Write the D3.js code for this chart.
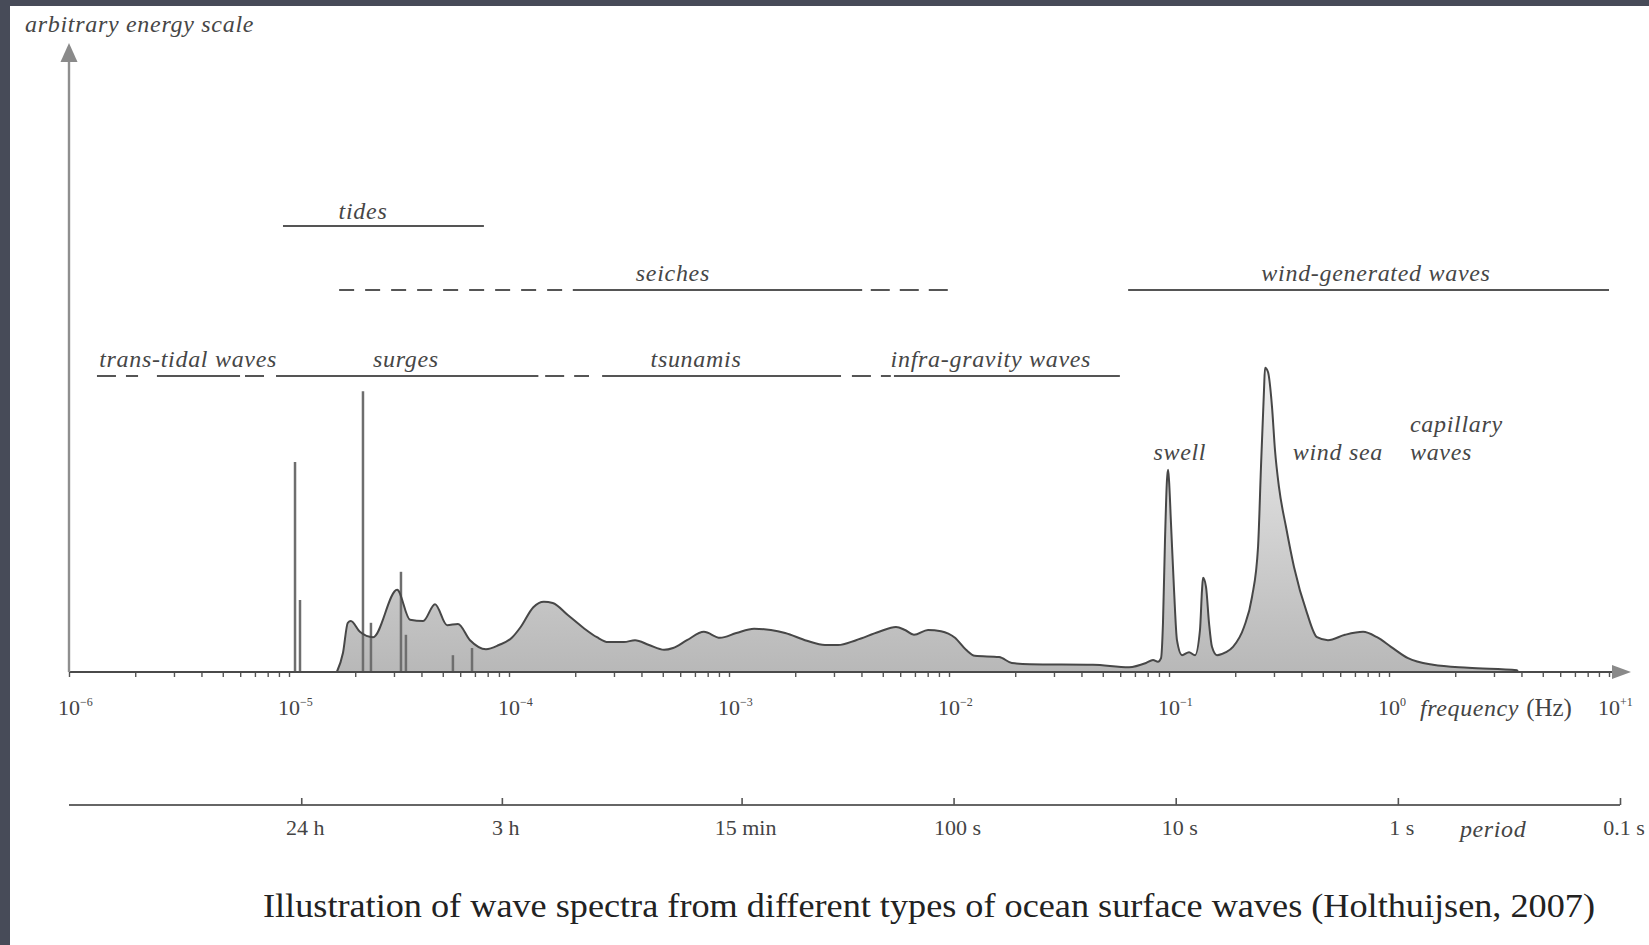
<!DOCTYPE html>
<html>
<head>
<meta charset="utf-8">
<script src="https://cdn.jsdelivr.net/npm/d3@7"></script>
<style>
  html, body { margin: 0; padding: 0; background: #474b58; }
  svg { display: block; }
</style>
</head>
<body>
<svg id="chart" width="1649" height="945"></svg>
<script>
// ---- Data -------------------------------------------------------------
// Composite energy spectrum (arbitrary units) against frequency (Hz)
const spectrumFreq = [
  1.65e-5, 1.76e-5, 1.85e-5, 1.91e-5, 2.10e-5, 2.41e-5, 3.10e-5, 3.55e-5, 4.07e-5, 4.61e-5,
  5.23e-5, 5.86e-5, 6.65e-5, 7.86e-5, 9.0e-5, 1.03e-4, 1.13e-4, 1.29e-4, 1.44e-4, 1.58e-4,
  1.85e-4, 2.19e-4, 2.51e-4, 2.82e-4, 3.33e-4, 3.74e-4, 4.33e-4, 5.07e-4, 5.57e-4, 6.44e-4,
  7.69e-4, 9.10e-4, 1.08e-3, 1.30e-3, 1.55e-3, 1.80e-3, 2.26e-3, 2.73e-3, 3.13e-3, 3.78e-3,
  4.81e-3, 5.74e-3, 6.31e-3, 6.93e-3, 8.03e-3, 9.20e-3, 1.065e-2, 1.195e-2, 1.31e-2, 1.69e-2,
  1.93e-2, 2.33e-2, 4.51e-2, 6.58e-2, 0.0786, 0.0846, 0.0891, 0.092, 0.0939, 0.0959,
  0.0979, 0.0990, 0.1, 0.1021, 0.1054, 0.1087, 0.1146, 0.1233, 0.1313, 0.1383,
  0.1413, 0.1428, 0.1473, 0.152, 0.1568, 0.1653, 0.1816, 0.1954, 0.2193, 0.2384,
  0.2539, 0.2619, 0.2703, 0.2732, 0.2818, 0.2939, 0.3032, 0.3162, 0.3402, 0.370,
  0.424, 0.4707, 0.528, 0.631, 0.762, 0.882, 1.021, 1.22, 1.585, 2.29, 3.82, 3.86
];
const spectrumEnergy = [
  0, 3.2, 8.2, 8.5, 6.7, 5.8, 13.7, 8.7, 8.5, 11.3,
  7.8, 8.0, 5.3, 3.8, 4.5, 5.7, 7.5, 10.8, 11.7, 11.5,
  9.5, 7.3, 5.8, 5.0, 5.0, 5.3, 4.5, 3.7, 4.0, 5.3,
  6.7, 5.7, 6.5, 7.2, 7.0, 6.5, 5.2, 4.5, 4.5, 5.3,
  6.7, 7.5, 7.0, 6.2, 7.0, 6.8, 5.7, 3.7, 2.7, 2.5,
  1.5, 1.3, 1.2, 0.8, 1.5, 2.0, 1.7, 2.3, 8.2, 22.0,
  32.0, 33.7, 32.0, 24.8, 13.7, 5.3, 2.8, 3.3, 2.8, 7.0,
  13.7, 15.7, 14.2, 8.2, 4.2, 2.8, 3.3, 4.2, 7.5, 12.5,
  20.8, 34.2, 47.0, 50.7, 50.0, 44.2, 37.0, 30.8, 24.2, 17.5,
  9.8, 5.8, 5.3, 6.2, 6.7, 5.8, 4.2, 2.3, 1.2, 0.7, 0.3, 0
];

// Tidal constituents (line spectrum)
const tidalFreq   = [1.065e-5, 1.122e-5, 2.169e-5, 2.358e-5, 3.228e-5, 3.40e-5, 5.56e-5, 6.79e-5];
const tidalEnergy = [35.0, 12.0, 46.8, 8.2, 16.7, 6.2, 2.8, 4.0];

// Frequency bands of the wave types: firm ranges and uncertain extensions (Hz)
const bandNames = ["trans-tidal waves", "tides", "seiches", "surges", "tsunamis",
                   "infra-gravity waves", "wind-generated waves"];
const bandLabelFreq = [3.48e-6, 2.17e-5, 5.56e-4, 3.40e-5, 7.08e-4, 1.55e-2, 0.873];
const bandFirm = [
  [[2.51e-6, 5.99e-6]],
  [[9.39e-6, 7.69e-5]],
  [[1.95e-4, 4.03e-3]],
  [[8.73e-6, 1.36e-4]],
  [[2.65e-4, 3.23e-3]],
  [[5.62e-3, 5.98e-2]],
  [[6.52e-2, 10]]
];
const bandUncertain = [
  [[1.34e-6, 2.06e-6], [6.31e-6, 7.94e-6]],
  [],
  [[1.69e-5, 1.85e-4], [4.41e-3, 1.03e-2]],
  [[1.46e-4, 2.31e-4]],
  [],
  [[3.62e-3, 5.44e-3]],
  []
];

// Peak annotations
const peakNames = ["swell", "wind sea"];
const peakFreq  = [0.112, 0.586];
const capillaryLines = ["capillary", "waves"];
const capillaryFreq = 1.245;

// Axis ticks
const freqTickExponents = [-6, -5, -4, -3, -2, -1, 0, 1];
const periodSeconds = [86400, 10800, 900, 100, 10, 1, 0.1];
const periodLabels  = ["24 h", "3 h", "15 min", "100 s", "10 s", "1 s", "0.1 s"];

const captionText = "Illustration of wave spectra from different types of ocean surface waves (Holthuijsen, 2007)";

// ---- Layout -----------------------------------------------------------
const W = 1649, H = 945;
const baseY = 672;
const periodY = 805;
const serif = "'Liberation Serif', 'Times New Roman', serif";
const labelInk = "#464646";

const svg = d3.select("#chart");

const x  = d3.scaleLog().domain([1e-6, 10]).range([69, 1609]);
const xp = d3.scaleLog().domain([1e-6, 10]).range([65, 1620]);
const y  = d3.scaleLinear().domain([0, 100]).range([baseY, 72]);

// page frame
svg.append("rect").attr("width", W).attr("height", H).attr("fill", "#474b58");
svg.append("rect").attr("x", 10).attr("y", 6).attr("width", W - 10).attr("height", H - 6).attr("fill", "#ffffff");

const defs = svg.append("defs");
const grad = defs.append("linearGradient")
  .attr("id", "specFill").attr("gradientUnits", "userSpaceOnUse")
  .attr("x1", 0).attr("x2", 0).attr("y1", y(51)).attr("y2", y(0));
grad.append("stop").attr("offset", 0).attr("stop-color", "#f0f0f0");
grad.append("stop").attr("offset", 1).attr("stop-color", "#b8b8b8");

// ---- Spectrum ---------------------------------------------------------
const spectrum = spectrumFreq.map((f, i) => ({ f, e: spectrumEnergy[i] }));

const area = d3.area()
  .x(d => x(d.f)).y0(y(0)).y1(d => y(d.e))
  .curve(d3.curveMonotoneX);
const line = d3.line()
  .x(d => x(d.f)).y(d => y(d.e))
  .curve(d3.curveMonotoneX);

svg.append("path").datum(spectrum).attr("d", area).attr("fill", "url(#specFill)");

// tidal line spectrum
svg.append("g").selectAll("line")
  .data(tidalFreq.map((f, i) => ({ f, e: tidalEnergy[i] })))
  .join("line")
  .attr("x1", d => x(d.f)).attr("x2", d => x(d.f))
  .attr("y1", y(0)).attr("y2", d => y(d.e))
  .attr("stroke", "#6e6e6e").attr("stroke-width", 2.5);

svg.append("path").datum(spectrum).attr("d", line)
  .attr("fill", "none").attr("stroke", "#474747").attr("stroke-width", 2)
  .attr("stroke-linejoin", "round");

// ---- Frequency axis ---------------------------------------------------
const minorTicks = [];
for (let k = -6; k <= 0; k++) for (let m = 1; m <= 9; m++) minorTicks.push(m * Math.pow(10, k));
minorTicks.push(10);

const xAxis = svg.append("g").attr("transform", `translate(0,${baseY})`)
  .call(d3.axisBottom(x).tickValues(minorTicks).tickSize(5).tickFormat(""));
xAxis.select(".domain").remove();
xAxis.selectAll(".tick line").attr("stroke", "#555").attr("stroke-width", 1.4);

svg.append("line").attr("x1", 69).attr("x2", 1616).attr("y1", baseY).attr("y2", baseY)
  .attr("stroke", "#4a4a4a").attr("stroke-width", 2);
svg.append("path").attr("d", `M1631,${baseY} L1612,${baseY - 7} L1612,${baseY + 7} Z`).attr("fill", "#8a8a8a");

const supText = e => e < 0 ? "\u2212" + Math.abs(e) : (e === 0 ? "0" : "+" + e);
const freqLabels = svg.append("g").attr("font-family", serif).attr("fill", "#444");
freqTickExponents.forEach(e => {
  const t = freqLabels.append("text").attr("x", x(Math.pow(10, e)) - 11).attr("y", 715)
    .attr("font-size", 22);
  t.append("tspan").text("10");
  t.append("tspan").attr("font-size", 12).attr("dy", -9).text(supText(e));
});

const fLabel = svg.append("text").attr("x", 1420).attr("y", 716)
  .attr("font-family", serif).attr("font-size", 24).attr("fill", "#444");
fLabel.append("tspan").attr("font-style", "italic").attr("letter-spacing", 0.6).text("frequency");
fLabel.append("tspan").attr("font-size", 25).attr("dx", 7).text("(Hz)");

// ---- Period axis ------------------------------------------------------
svg.append("line").attr("x1", 69).attr("x2", xp(10)).attr("y1", periodY).attr("y2", periodY)
  .attr("stroke", "#666").attr("stroke-width", 2);
const pAxis = svg.append("g").attr("transform", `translate(0,${periodY})`)
  .call(d3.axisTop(xp).tickValues(periodSeconds.map(s => 1 / s)).tickSize(7).tickFormat(""));
pAxis.select(".domain").remove();
pAxis.selectAll(".tick line").attr("stroke", "#555").attr("stroke-width", 1.6);

svg.append("g").attr("font-family", serif).attr("font-size", 22).attr("fill", "#444")
  .selectAll("text").data(periodSeconds).join("text")
  .attr("x", s => xp(1 / s) + 4).attr("y", 835).attr("text-anchor", "middle")
  .text((s, i) => periodLabels[i]);

svg.append("text").attr("x", 1460).attr("y", 837)
  .attr("font-family", serif).attr("font-style", "italic").attr("font-size", 24)
  .attr("letter-spacing", 0.6).attr("fill", "#444").text("period");

// ---- Energy axis ------------------------------------------------------
svg.append("line").attr("x1", 69).attr("x2", 69).attr("y1", baseY).attr("y2", 58)
  .attr("stroke", "#8f8f8f").attr("stroke-width", 2.4);
svg.append("path").attr("d", "M69,43 L60.5,62 L77.5,62 Z").attr("fill", "#8a8a8a");
svg.append("text").attr("x", 25).attr("y", 32)
  .attr("font-family", serif).attr("font-style", "italic").attr("font-size", 24)
  .attr("letter-spacing", 0.7).attr("fill", labelInk).text("arbitrary energy scale");

// ---- Wave-type bands --------------------------------------------------
const rowY = name => name === "tides" ? 226 :
  (name === "seiches" || name === "wind-generated waves") ? 290 : 376;

const bandG = svg.append("g").attr("stroke", "#555").attr("stroke-width", 2);
bandNames.forEach((name, i) => {
  const yy = rowY(name);
  bandFirm[i].forEach(([a, b]) => {
    bandG.append("line").attr("x1", x(a)).attr("x2", x(b)).attr("y1", yy).attr("y2", yy);
  });
  bandUncertain[i].forEach(([a, b]) => {
    const len = x(b) - x(a);
    bandG.append("line").attr("x1", x(a)).attr("x2", x(b)).attr("y1", yy).attr("y2", yy)
      .attr("stroke-dasharray", len < 100 ? "19,10" : "15,11");
  });
});

svg.append("g").attr("font-family", serif).attr("font-style", "italic").attr("font-size", 24)
  .attr("letter-spacing", 0.7).attr("fill", labelInk).attr("text-anchor", "middle")
  .selectAll("text").data(bandNames).join("text")
  .attr("x", (d, i) => x(bandLabelFreq[i]))
  .attr("y", d => rowY(d) - (d === "tides" ? 7 : 9))
  .text(d => d);

// ---- Peak annotations -------------------------------------------------
const peakG = svg.append("g").attr("font-family", serif).attr("font-style", "italic")
  .attr("font-size", 24).attr("letter-spacing", 0.7).attr("fill", labelInk);
peakG.selectAll("text.peak").data(peakNames).join("text").attr("class", "peak")
  .attr("x", (d, i) => x(peakFreq[i])).attr("y", 460).attr("text-anchor", "middle")
  .text(d => d);
peakG.selectAll("text.cap").data(capillaryLines).join("text").attr("class", "cap")
  .attr("x", x(capillaryFreq)).attr("y", (d, i) => 432 + i * 28)
  .text(d => d);

// ---- Caption ----------------------------------------------------------
svg.append("text").attr("x", 263).attr("y", 917)
  .attr("font-family", serif).attr("font-size", 34).attr("fill", "#222")
  .attr("textLength", 1332).attr("lengthAdjust", "spacingAndGlyphs")
  .text(captionText);
</script>
</body>
</html>
